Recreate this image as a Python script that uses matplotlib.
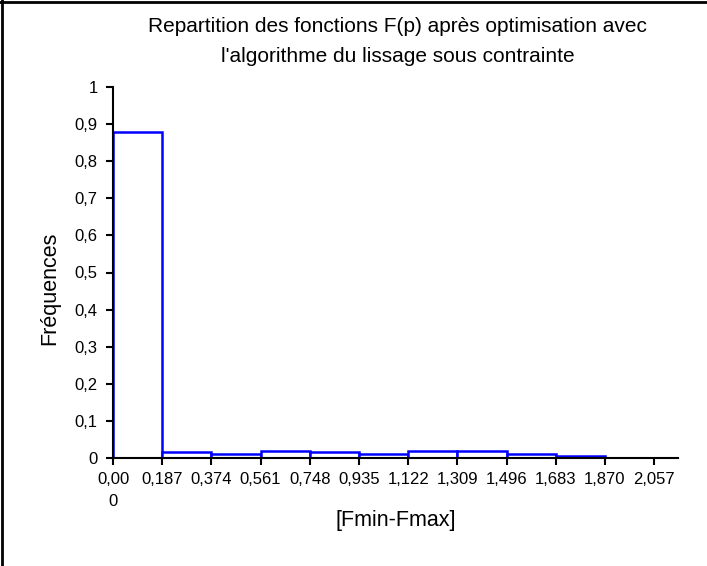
import numpy as np
import matplotlib
matplotlib.use("Agg")
import matplotlib.pyplot as plt
from matplotlib.lines import Line2D

plt.rcParams['font.family'] = ['Liberation Sans', 'DejaVu Sans']

# class edges and frequencies (histogram)
bin_edges = [0.0, 0.187, 0.374, 0.561, 0.748, 0.935, 1.122, 1.309, 1.496, 1.683, 1.870, 2.057]
freqs = [0.88, 0.015, 0.01, 0.02, 0.015, 0.01, 0.02, 0.02, 0.01, 0.005, 0.0]
x_tick_labels = ["0,00\n0", "0,187", "0,374", "0,561", "0,748", "0,935", "1,122",
                 "1,309", "1,496", "1,683", "1,870", "2,057"]
y_ticks = [0, 0.1, 0.2, 0.3, 0.4, 0.5, 0.6, 0.7, 0.8, 0.9, 1.0]
y_tick_labels = ["0", "0,1", "0,2", "0,3", "0,4", "0,5", "0,6", "0,7", "0,8", "0,9", "1"]

fig = plt.figure(figsize=(7.07, 5.66), dpi=100)
ax = fig.add_axes([113 / 707, 1 - 458 / 566, (678 - 113) / 707, (458 - 87) / 566])

widths = np.diff(bin_edges)
keep = [i for i, f in enumerate(freqs) if f > 0]
ax.bar([bin_edges[i] for i in keep], [freqs[i] for i in keep], width=[widths[i] for i in keep],
       align='edge', facecolor='white', edgecolor='#0000FF', linewidth=1.8, zorder=2)

ax.set_xlim(0, 2.148)
ax.set_ylim(0, 1)
ax.set_xticks(bin_edges)
ax.set_xticklabels(x_tick_labels, fontsize=12, linespacing=1.6, va='top')
ax.set_yticks(y_ticks)
ax.set_yticklabels(y_tick_labels, fontsize=12)

for s in ['top', 'right']:
    ax.spines[s].set_visible(False)
for s in ['left', 'bottom']:
    ax.spines[s].set_linewidth(1.5)
    ax.spines[s].set_zorder(3)
ax.tick_params(direction='out', length=5, width=1.5, pad=6)
ax.tick_params(axis='x', pad=5)

fig.text(0.562, 0.953, "Repartition des fonctions F(p) après optimisation avec",
         ha='center', va='center', fontsize=15)
fig.text(0.562, 0.900, "l'algorithme du lissage sous contrainte",
         ha='center', va='center', fontsize=15)
fig.text(0.071, 0.49, "Fréquences", rotation=90, ha='center', va='center', fontsize=15.5)
fig.text(0.56, 0.08, "[Fmin-Fmax]", ha='center', va='center', fontsize=15.5)

# frame of the chart area (only top and left visible in the crop)
fig.add_artist(Line2D([1.5 / 707, 1.5 / 707], [0, 1], transform=fig.transFigure, color='black', lw=2))
fig.add_artist(Line2D([0, 1], [1 - 1.5 / 566, 1 - 1.5 / 566], transform=fig.transFigure, color='black', lw=2))

fig.savefig("out.png", dpi=100, facecolor='white')
